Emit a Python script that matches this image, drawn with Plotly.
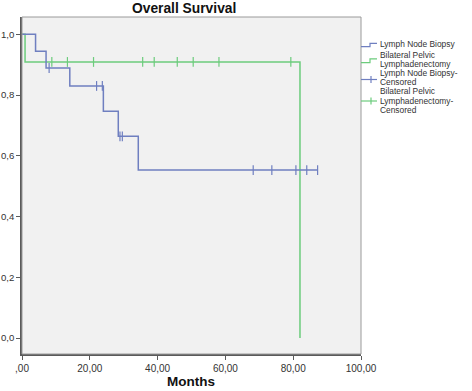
import plotly.graph_objects as go

# ---- data ----
lnb_times = [0, 4.0, 7.1, 14.1, 24.0, 28.4, 34.3, 87.2]
lnb_surv = [1.0, 0.944, 0.889, 0.830, 0.747, 0.664, 0.553, 0.553]
lnb_censor_times = [8.0, 22.0, 23.7, 28.9, 29.6, 68.2, 73.7, 80.8, 84.0, 87.2]

bpl_times = [0, 0.9, 82.0]
bpl_surv = [1.0, 0.909, 0.0]
bpl_censor_times = [8.8, 13.4, 21.1, 35.6, 39.0, 45.8, 50.5, 58.1, 79.3]

x_tickvals = [0, 20, 40, 60, 80, 100]
x_ticktext = [",00", "20,00", "40,00", "60,00", "80,00", "100,00"]
y_tickvals = [0.0, 0.2, 0.4, 0.6, 0.8, 1.0]
y_ticktext = ["0,0", "0,2", "0,4", "0,6", "0,8", "1,0"]

legend_lines = ["Lymph Node Biopsy", "Bilateral Pelvic", "Lymphadenectomy",
                "Lymph Node Biopsy-", "Censored", "Bilateral Pelvic", "Lymphadenectomy-", "Censored"]

BLUE = "#6f7fc0"
GREEN = "#6ccc7c"


def step_value(times, surv, t):
    v = surv[0]
    for ti, si in zip(times, surv):
        if ti <= t:
            v = si
    return v


fig = go.Figure()
fig.add_trace(go.Scatter(x=bpl_times, y=bpl_surv, mode="lines", line=dict(color=GREEN, width=1.5, shape="hv"),
                         showlegend=False, hoverinfo="skip"))
fig.add_trace(go.Scatter(x=lnb_times, y=lnb_surv, mode="lines", line=dict(color=BLUE, width=1.5, shape="hv"),
                         showlegend=False, hoverinfo="skip"))
fig.add_trace(go.Scatter(x=bpl_censor_times, y=[step_value(bpl_times, bpl_surv, t) for t in bpl_censor_times],
                         mode="markers", marker=dict(symbol="line-ns", size=7, line=dict(color=GREEN, width=1.2)),
                         showlegend=False, hoverinfo="skip"))
fig.add_trace(go.Scatter(x=lnb_censor_times, y=[step_value(lnb_times, lnb_surv, t) for t in lnb_censor_times],
                         mode="markers", marker=dict(symbol="line-ns", size=7, line=dict(color=BLUE, width=1.2)),
                         showlegend=False, hoverinfo="skip"))

W, H = 472, 391
L, R, T, B = 22, 111, 17, 37
pw, ph = W - L - R, H - T - B


def px_x(x):
    return (x - L) / pw


def px_y(y):
    return (H - B - y) / ph


shapes = [
    dict(type="rect", xref="paper", yref="paper", x0=0, x1=1, y0=0, y1=1,
         line=dict(color="#9a9a9a", width=1), layer="above"),
    dict(type="path", xref="paper", yref="paper",
         path=f"M{px_x(361)},{px_y(46.7)} L{px_x(370)},{px_y(46.7)} L{px_x(370)},{px_y(43.3)} L{px_x(377)},{px_y(43.3)}",
         line=dict(color=BLUE, width=1.2)),
    dict(type="path", xref="paper", yref="paper",
         path=f"M{px_x(361)},{px_y(62.7)} L{px_x(370)},{px_y(62.7)} L{px_x(370)},{px_y(58.8)} L{px_x(377)},{px_y(58.8)}",
         line=dict(color=GREEN, width=1.2)),
    dict(type="line", xref="paper", yref="paper", x0=px_x(361), x1=px_x(377), y0=px_y(79.5), y1=px_y(79.5),
         line=dict(color=BLUE, width=1.2)),
    dict(type="line", xref="paper", yref="paper", x0=px_x(371), x1=px_x(371), y0=px_y(76), y1=px_y(83),
         line=dict(color=BLUE, width=1.2)),
    dict(type="line", xref="paper", yref="paper", x0=px_x(361), x1=px_x(377), y0=px_y(101), y1=px_y(101),
         line=dict(color=GREEN, width=1.2)),
    dict(type="line", xref="paper", yref="paper", x0=px_x(371), x1=px_x(371), y0=px_y(97.5), y1=px_y(104.5),
         line=dict(color=GREEN, width=1.2)),
]

leg_font = dict(family="Liberation Sans, Arial, sans-serif", size=8.4, color="#333333")
legend_line_y = [44.3, 54.8, 63.8, 72.6, 81.9, 91.3, 100.7, 110.0]
annotations = []
for lab, yc in zip(legend_lines, legend_line_y):
    annotations.append(dict(text=lab, xref="paper", yref="paper", x=px_x(378), y=px_y(yc),
                            xanchor="left", yanchor="middle", align="left", showarrow=False, font=leg_font))
annotations.append(dict(text="<b>Months</b>", xref="paper", yref="paper", x=px_x(191), y=px_y(381),
                        xanchor="center", yanchor="middle", showarrow=False,
                        font=dict(family="Liberation Sans, Arial, sans-serif", size=13.5, color="#111111")))
annotations.append(dict(text="<b>Overall Survival</b>", xref="paper", yref="paper", x=px_x(184), y=px_y(8),
                        xanchor="center", yanchor="middle", showarrow=False,
                        font=dict(family="Liberation Sans, Arial, sans-serif", size=13.8, color="#111111")))

fig.update_layout(
    width=W, height=H,
    margin=dict(l=L, r=R, t=T, b=B, autoexpand=False),
    paper_bgcolor="white",
    plot_bgcolor="#f1f1f1",
    showlegend=False,
    shapes=shapes,
    annotations=annotations,
    font=dict(family="Liberation Sans, Arial, sans-serif", size=10, color="#333333"),
    xaxis=dict(range=[0, 100], tickvals=x_tickvals, ticktext=x_ticktext, showgrid=False, zeroline=False,
               showline=True, linecolor="#5a5a5a", linewidth=1.5, ticks="outside", ticklen=4, automargin=False,
               tickcolor="#5a5a5a", tickwidth=1, tickfont=dict(size=10, color="#333333")),
    yaxis=dict(range=[-0.0527, 1.057], tickvals=y_tickvals, ticktext=y_ticktext, showgrid=False, zeroline=False,
               showline=True, linecolor="#5a5a5a", linewidth=1.5, ticks="outside", ticklen=4, automargin=False,
               ticklabelstandoff=0,
               tickcolor="#5a5a5a", tickwidth=1, tickfont=dict(size=9.6, color="#333333")),
)

fig.write_html("out.html", config={"displayModeBar": False},
               post_script="document.body.style.margin='0';document.body.style.overflow='hidden';")
